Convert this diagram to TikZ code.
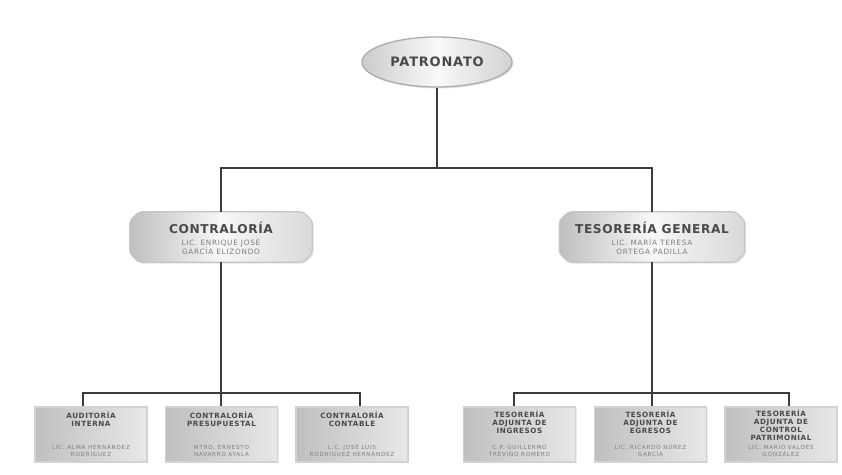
\documentclass[tikz,border=0pt]{standalone}
\usepackage{fontspec}
\setmainfont{Liberation Sans}
\newfontfamily\widefam{DejaVu Sans}
\usetikzlibrary{shapes.geometric,shadows}
\definecolor{linec}{HTML}{3C3C3C}
\definecolor{titc}{HTML}{4A4A4A}
\definecolor{namec}{HTML}{7E7E7E}
\tikzset{
  conn/.style={draw=linec, line width=2.2pt},
  patbox/.style={ellipse, draw=gray!65, line width=1.3pt, minimum width=150pt, minimum height=50pt,
    left color=gray!40, right color=gray!35, middle color=gray!5, inner sep=0pt,
    drop shadow={opacity=0.2, shadow xshift=1.5pt, shadow yshift=-1.5pt}},
  midframe/.style={rectangle, inner sep=0pt, minimum height=50pt},
  midshape/.style={draw=gray!45, line width=1.2pt, rounded corners=3pt,
    left color=gray!50, right color=gray!30, middle color=gray!6,
    drop shadow={opacity=0.2, shadow xshift=1.5pt, shadow yshift=-1.5pt}},
  midtitle/.style={text=titc, font=\widefam\fontsize{12.2}{14}\selectfont\bfseries\addfontfeature{LetterSpace=5}, inner sep=0pt},
  midname/.style={text=namec, font=\widefam\fontsize{7.3}{9}\selectfont\addfontfeature{LetterSpace=10}, align=center, inner sep=0pt},
  lowbox/.style={rectangle, draw=gray!35, line width=1.5pt, minimum width=112pt, minimum height=55pt,
    left color=gray!50, right color=gray!18, inner sep=0pt,
    drop shadow={opacity=0.15, shadow xshift=1.2pt, shadow yshift=-1.2pt}},
  lowtitle/.style={text=titc, font=\widefam\fontsize{7.2}{8.2}\selectfont\bfseries\addfontfeature{LetterSpace=8}, align=center, inner sep=0pt},
  lowname/.style={text=namec, font=\widefam\fontsize{5.6}{6.8}\selectfont\addfontfeature{LetterSpace=14}, align=center, inner sep=0pt},
}
\newcommand{\chamferpath}[1]{%
  \path[midshape] ([xshift=9pt]#1.north west) -- ([xshift=-9pt]#1.north east)
    -- ([yshift=-9pt]#1.north east) -- ([yshift=9pt]#1.south east)
    -- ([xshift=-9pt]#1.south east) -- ([xshift=9pt]#1.south west)
    -- ([yshift=9pt]#1.south west) -- ([yshift=-9pt]#1.north west) -- cycle;}
\begin{document}
\begin{tikzpicture}[x=1pt,y=-1pt]
\useasboundingbox[fill=white] (0,0) rectangle (842,474);
% top
\node[patbox, text=titc, font=\widefam\fontsize{13}{15}\selectfont\bfseries\addfontfeature{LetterSpace=6}] (pat) at (437,62) {PATRONATO};
\node[midframe, minimum width=182pt] (con) at (221,237) {};
\node[midframe, minimum width=185pt] (tes) at (652,237) {};
\chamferpath{con}
\chamferpath{tes}
\node[midtitle] (cont) at ([yshift=9.5pt]con.center) {CONTRALORÍA};
\node[midname] (conn) at ([yshift=-10pt]con.center) {LIC. ENRIQUE JOSÉ\\GARCÍA ELIZONDO};
\node[midtitle] (test) at ([yshift=9.5pt]tes.center) {TESORERÍA GENERAL};
\node[midname] (tesn) at ([yshift=-10pt]tes.center) {LIC. MARÍA TERESA\\ORTEGA PADILLA};
% bottom boxes
\node[lowbox] (b1) at (91,434.5) {};
\node[lowbox] (b2) at (221.5,434.5) {};
\node[lowbox] (b3) at (352,434.5) {};
\node[lowbox] (b4) at (519.5,434.5) {};
\node[lowbox] (b5) at (650.5,434.5) {};
\node[lowbox] (b6) at (781,434.5) {};
% titles
\node[lowtitle, anchor=north] (t1) at ([yshift=-5pt]b1.north) {AUDITORÍA\\INTERNA};
\node[lowtitle, anchor=north] (t2) at ([yshift=-5pt]b2.north) {CONTRALORÍA\\PRESUPUESTAL};
\node[lowtitle, anchor=north] (t3) at ([yshift=-5pt]b3.north) {CONTRALORÍA\\CONTABLE};
\node[lowtitle, anchor=north] (t4) at ([yshift=-4pt]b4.north) {TESORERÍA\\ADJUNTA DE\\INGRESOS};
\node[lowtitle, anchor=north] (t5) at ([yshift=-4pt]b5.north) {TESORERÍA\\ADJUNTA DE\\EGRESOS};
\node[lowtitle, anchor=north] (t6) at ([yshift=-3pt]b6.north) {TESORERÍA\\ADJUNTA DE\\CONTROL\\PATRIMONIAL};
% names
\node[lowname, anchor=south] (n1) at ([yshift=6pt]b1.south) {LIC. ALMA HERNÁNDEZ\\RODRÍGUEZ};
\node[lowname, anchor=south] (n2) at ([yshift=6pt]b2.south) {MTRO. ERNESTO\\NAVARRO AYALA};
\node[lowname, anchor=south] (n3) at ([yshift=6pt]b3.south) {L.C. JOSÉ LUIS\\RODRÍGUEZ HERNÁNDEZ};
\node[lowname, anchor=south] (n4) at ([yshift=6pt]b4.south) {C.P. GUILLERMO\\TREVIÑO ROMERO};
\node[lowname, anchor=south] (n5) at ([yshift=6pt]b5.south) {LIC. RICARDO NÚÑEZ\\GARCÍA};
\node[lowname, anchor=south] (n6) at ([yshift=6pt]b6.south) {LIC. MARIO VALDÉS\\GONZÁLEZ};
% connector coordinates
\coordinate (tb) at (437,168);
\coordinate (lbL) at (83,393);
\coordinate (lbR) at (360,393);
\coordinate (rbL) at (514,393);
\coordinate (rbR) at (789,393);
% connectors
\draw[conn] (pat.south) -- (tb);
\draw[conn] (con.north) -- (con.north |- tb) -- (tes.north |- tb) -- (tes.north);
\draw[conn] (con.south) -- (con.south |- b2.north);
\draw[conn] (lbL |- b1.north) -- (lbL) -- (lbR) -- (lbR |- b3.north);
\draw[conn] (tes.south) -- (tes.south |- b5.north);
\draw[conn] (rbL |- b4.north) -- (rbL) -- (rbR) -- (rbR |- b6.north);
\end{tikzpicture}
\end{document}
